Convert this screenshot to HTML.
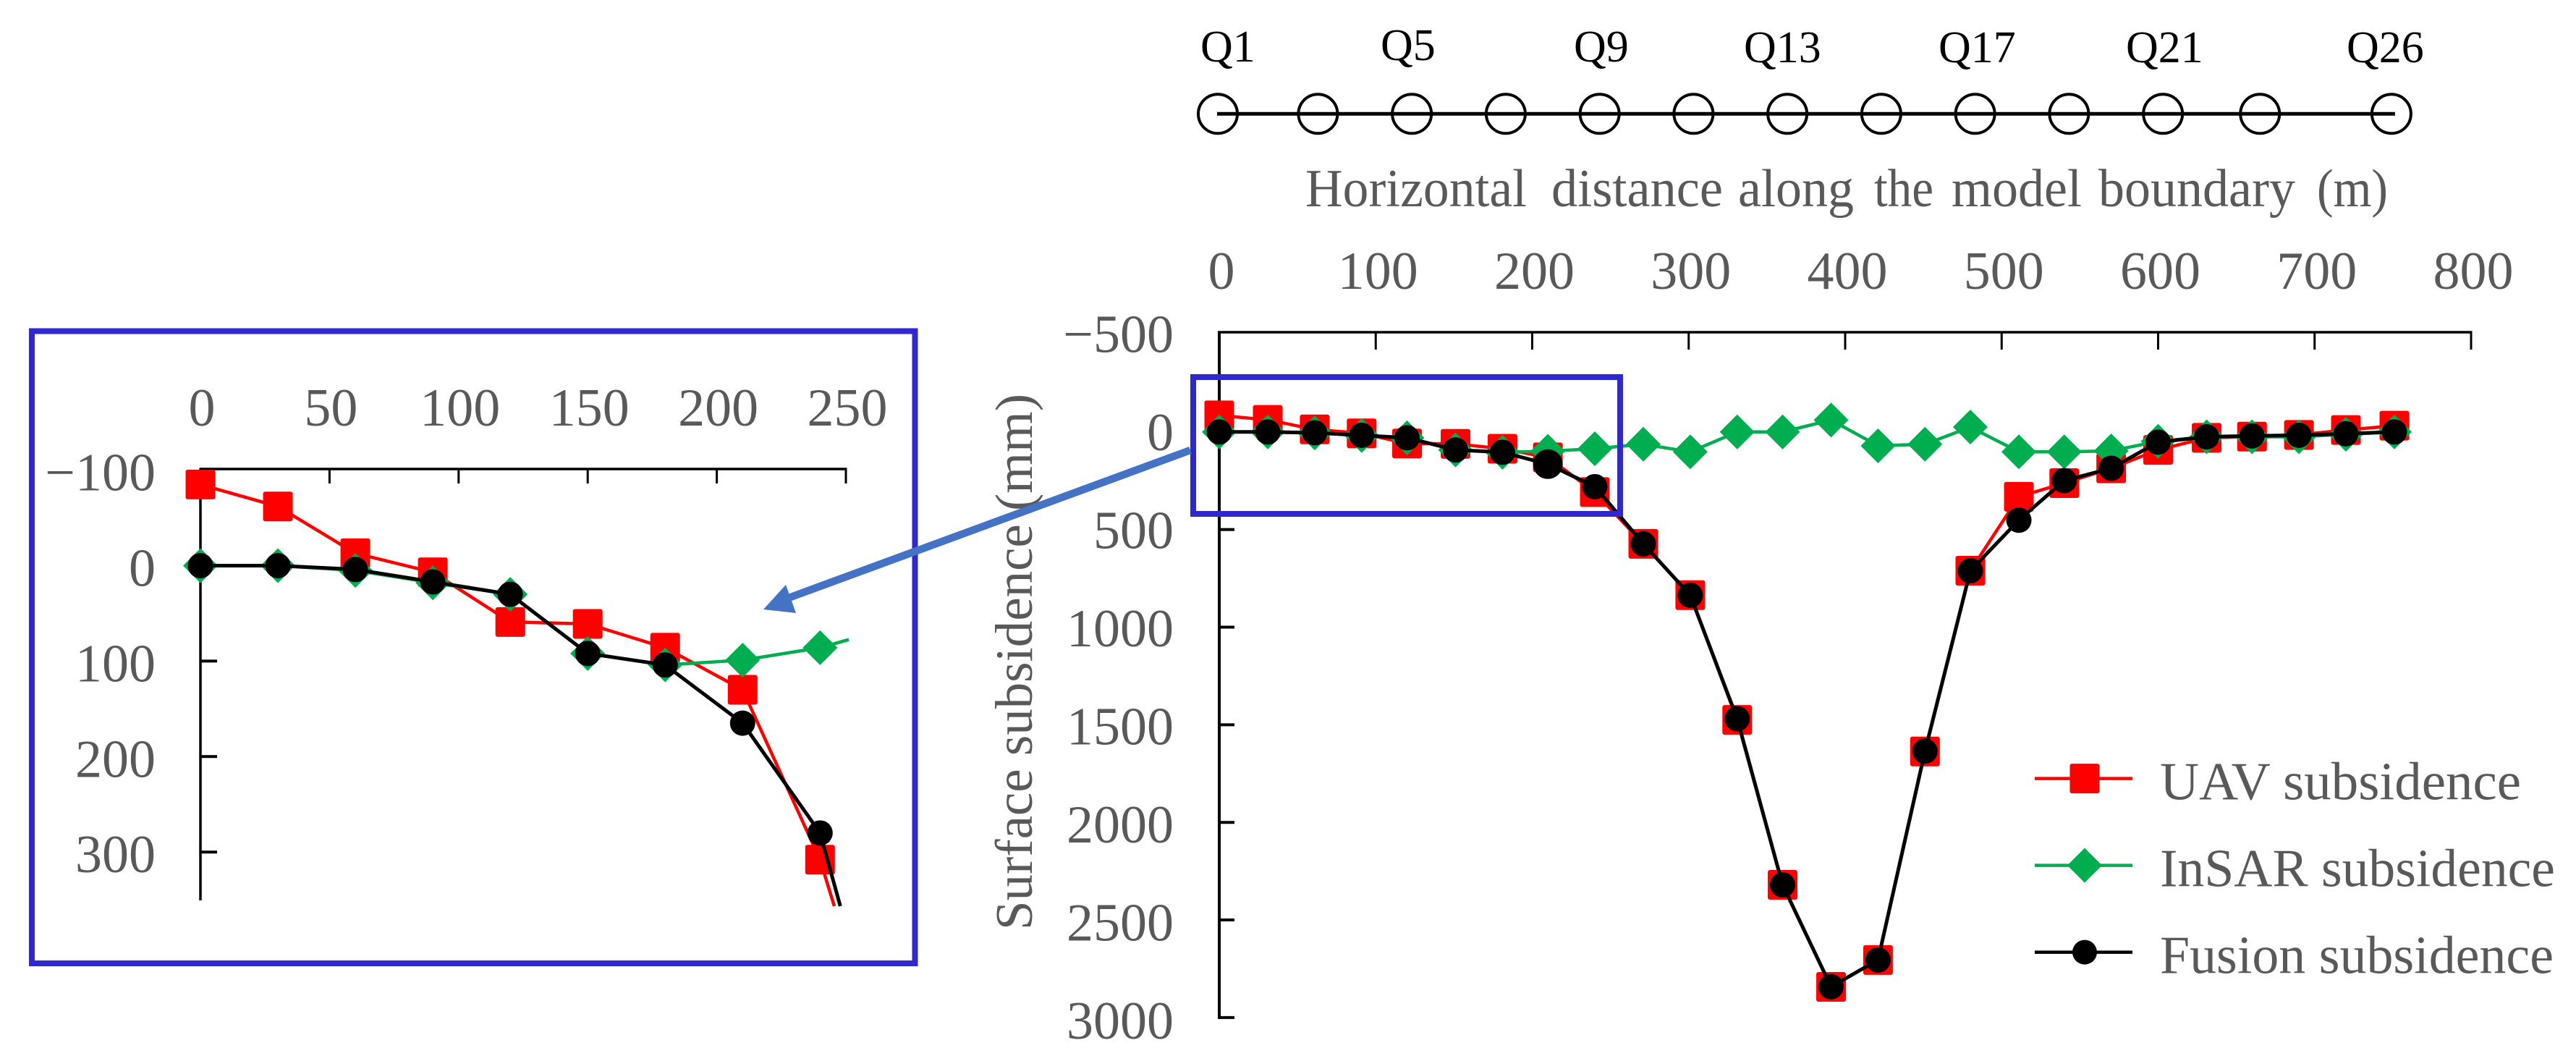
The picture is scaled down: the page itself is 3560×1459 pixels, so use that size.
<!DOCTYPE html>
<html lang="en">
<head>
<meta charset="utf-8">
<title>Surface subsidence along the model boundary</title>
<style>
html,body{margin:0;padding:0;background:#fff;overflow:hidden;}
svg{display:block;}
text{font-family:"Liberation Serif",serif;}
.lbl{fill:#595959;font-size:74px;}
.q{fill:#000;font-size:62px;}
</style>
</head>
<body>
<svg id="fig" xmlns="http://www.w3.org/2000/svg" width="3560" height="1459" viewBox="0 0 3560 1459">
  <rect x="0" y="0" width="3560" height="1459" fill="#fff"/>

  <g id="stationStrip">
    <text class="q" x="1659" y="85">Q1</text>
    <text class="q" x="1908" y="83">Q5</text>
    <text class="q" x="2175" y="85">Q9</text>
    <text class="q" x="2410" y="86">Q13</text>
    <text class="q" x="2679" y="86">Q17</text>
    <text class="q" x="2938" y="86">Q21</text>
    <text class="q" x="3243" y="86">Q26</text>
  </g>

  <text class="lbl" y="285" style="font-size:74px"><tspan x="1804" textLength="306" lengthAdjust="spacingAndGlyphs">Horizontal</tspan> <tspan x="2144" textLength="237" lengthAdjust="spacingAndGlyphs">distance</tspan> <tspan x="2402" textLength="160" lengthAdjust="spacingAndGlyphs">along</tspan> <tspan x="2590" textLength="82" lengthAdjust="spacingAndGlyphs">the</tspan> <tspan x="2697" textLength="180" lengthAdjust="spacingAndGlyphs">model</tspan> <tspan x="2900" textLength="272" lengthAdjust="spacingAndGlyphs">boundary</tspan> <tspan x="3202" textLength="98" lengthAdjust="spacingAndGlyphs">(m)</tspan></text>
  <text class="lbl" transform="translate(1426,1285) rotate(-90)" x="0" y="0" style="font-size:73px" textLength="741" lengthAdjust="spacingAndGlyphs">Surface subsidence (mm)</text>

  <g id="mainChart"></g>
  <g id="legend"></g>
  <g id="insetChart"></g>

  <rect x="1649" y="521" width="590" height="189" fill="none" stroke="#2f27cf" stroke-width="8"/>
  <rect x="44" y="457.5" width="1220.5" height="873.5" fill="none" stroke="#2f27cf" stroke-width="8"/>
  <line x1="1645" y1="622" x2="1090" y2="826" stroke="#4472c4" stroke-width="10.5"/>
  <polygon points="1055,842 1086,808 1100,847" fill="#4472c4"/>
</svg>

<script>
// Shared data
const distances = [0,31,61,91,120,151,181,210,240,271,301,331,360,391,421,451,480,511,540,570,600,631,660,690,720,751];
const insetDistances = [0,30,60,90,120,150,180,210,240,270,300,330,360,390,420,450,480,510,540,570,600,630,660,690,720,750];
const uavValues = [-85,-62,-13,7,59,61,86,130,308,573,836,1475,2320,2843,2705,1637,711,332,262,186,92,30,24,15,-10,-32];
const insarValues = [0,0,5,18,30,92,104,99,86,63,102,0,0,-61,71,63,-25,102,102,97,48,25,25,25,12,0];
const fusionValues = [0,0,4,17,30,92,104,165,280,573,836,1469,2320,2842,2705,1635,711,452,249,186,52,25,20,17,9,0];
const mainXTicks = [0,100,200,300,400,500,600,700,800];
const mainYTicks = [-500,0,500,1000,1500,2000,2500,3000];
const insetXTicks = [0,50,100,150,200,250];
const insetYTicks = [-100,0,100,200,300];
const stationDistances = [0,64,124,184,244,304,364,424,484,544,604,666,750];

const NS = 'http://www.w3.org/2000/svg';
function el(parent, tag, attrs, txt){
  const e = document.createElementNS(NS, tag);
  for (const k in attrs) e.setAttribute(k, attrs[k]);
  if (txt !== undefined) e.textContent = txt;
  parent.appendChild(e);
  return e;
}
const fmt = v => (v < 0 ? '\u2212' + (-v) : String(v));

// Axis functions
const xMain = d => 1685 + d * 2.1625;
const yMain = v => 596.8 + v * 0.2697;
const yMainLabel = v => 622 + v * 0.2710;
const xInset = d => 277 + d * 3.568;
const yInset = v => 781.5 + v * 1.319;
const xStation = d => 1683 + d * 2.1625;

// Inset plot limits: lines stop at these edges, markers outside are not drawn
const LIMIT_X = 1173;
const LIMIT_Y = 1252;

function linePoints(xs, ys, xf, yf, limited){
  const pts = [];
  for (let i = 0; i < ys.length; i++) {
    const x = xf(xs[i]), y = yf(ys[i]);
    if (limited && (x > LIMIT_X || y > LIMIT_Y)) {
      const x0 = xf(xs[i - 1]), y0 = yf(ys[i - 1]);
      const tx = x > LIMIT_X ? (LIMIT_X - x0) / (x - x0) : 1;
      const ty = y > LIMIT_Y ? (LIMIT_Y - y0) / (y - y0) : 1;
      const t = Math.min(tx, ty);
      pts.push((x0 + (x - x0) * t).toFixed(1) + ',' + (y0 + (y - y0) * t).toFixed(1));
      break;
    }
    pts.push(x.toFixed(1) + ',' + y.toFixed(1));
  }
  return pts.join(' ');
}
function polyline(parent, xs, ys, xf, yf, color, sw, name, limited){
  const p = el(parent, 'polyline', {points: linePoints(xs, ys, xf, yf, limited), fill: 'none', stroke: color, 'stroke-width': sw, 'stroke-linejoin': 'round'});
  
  
}
function square(parent, cx, cy, s, name){
  const m = el(parent, 'rect', {x: cx - s / 2, y: cy - s / 2, width: s, height: s, rx: 3, fill: '#ff0000'});
  
  
}
function diamond(parent, cx, cy, s, name){
  const h = s / 2;
  const m = el(parent, 'polygon', {points: [cx - h, cy, cx, cy - h, cx + h, cy, cx, cy + h].join(' '), fill: '#00ad4f'});
  
  
}
function dot(parent, cx, cy, r, name){
  const m = el(parent, 'circle', {cx: cx, cy: cy, r: r, fill: '#000'});
  
  
}
function series(parent, xs, xf, yf, prefix, bigIndex, limited){
  const visible = (x, y) => !limited || (x <= LIMIT_X && y <= LIMIT_Y);
  polyline(parent, xs, uavValues, xf, yf, '#ff0000', 4.5, prefix + '-uav-line', limited);
  uavValues.forEach((v, i) => { if (visible(xf(xs[i]), yf(v))) square(parent, xf(xs[i]), yf(v), 41, prefix + '-uav-point'); });
  polyline(parent, xs, insarValues, xf, yf, '#00ad4f', 4.5, prefix + '-insar-line', limited);
  insarValues.forEach((v, i) => { if (visible(xf(xs[i]), yf(v))) diamond(parent, xf(xs[i]), yf(v), 48, prefix + '-insar-point'); });
  polyline(parent, xs, fusionValues, xf, yf, '#000', 5, prefix + '-fusion-line', limited);
  fusionValues.forEach((v, i) => { if (visible(xf(xs[i]), yf(v))) dot(parent, xf(xs[i]), yf(v), i === bigIndex ? 20.5 : 17.5, prefix + '-fusion-point'); });
}

// Station strip
const strip = document.getElementById('stationStrip');
const stationLine = el(strip, 'line', {x1: xStation(stationDistances[0]) - 1, y1: 157.3, x2: xStation(stationDistances[stationDistances.length - 1]) + 5, y2: 157.3, stroke: '#000', 'stroke-width': 5});


stationDistances.forEach(d => {
  const ring = el(strip, 'circle', {cx: xStation(d), cy: 157.3, r: 27, fill: 'none', stroke: '#000', 'stroke-width': 4});
  
  
});

// Main chart
const mainG = document.getElementById('mainChart');
const MAIN_TOP = 459;
const mainXAxis = el(mainG, 'line', {x1: xMain(0) - 2, y1: MAIN_TOP, x2: xMain(800) + 1.5, y2: MAIN_TOP, stroke: '#000', 'stroke-width': 3.5});


const mainYAxis = el(mainG, 'line', {x1: xMain(0), y1: MAIN_TOP - 1.5, x2: xMain(0), y2: yMain(3000) + 2, stroke: '#000', 'stroke-width': 4});


mainXTicks.forEach(t => {
  if (t !== 0) {
    const tk = el(mainG, 'line', {x1: xMain(t), y1: MAIN_TOP, x2: xMain(t), y2: MAIN_TOP + 24, stroke: '#000', 'stroke-width': 3});
    
    
  }
  const lb = el(mainG, 'text', {class: 'lbl', x: xMain(t) + 3, y: 399, 'text-anchor': 'middle'}, fmt(t));
  
  
});
mainYTicks.forEach(t => {
  if (t !== mainYTicks[0]) {
    const tk = el(mainG, 'line', {x1: xMain(0), y1: yMain(t), x2: xMain(0) + 21, y2: yMain(t), stroke: '#000', 'stroke-width': 4});
    
    
  }
  const lb = el(mainG, 'text', {class: 'lbl', x: 1622, y: yMainLabel(t), 'text-anchor': 'end'}, fmt(t));
  
  
});
series(mainG, distances, xMain, yMain, 'main', 7, false);

// Inset chart
const insetG = document.getElementById('insetChart');
const INSET_TOP = 648;
const insetXAxis = el(insetG, 'line', {x1: xInset(0) - 1.5, y1: INSET_TOP, x2: xInset(250) + 1.5, y2: INSET_TOP, stroke: '#000', 'stroke-width': 3.5});


const insetYAxis = el(insetG, 'line', {x1: xInset(0), y1: INSET_TOP, x2: xInset(0), y2: 1244, stroke: '#000', 'stroke-width': 3.5});


insetXTicks.forEach(t => {
  if (t !== 0) {
    const tk = el(insetG, 'line', {x1: xInset(t), y1: INSET_TOP, x2: xInset(t), y2: INSET_TOP + 20, stroke: '#000', 'stroke-width': 3});
    
    
  }
  const lb = el(insetG, 'text', {class: 'lbl', x: xInset(t) + 2, y: 588, 'text-anchor': 'middle'}, fmt(t));
  
  
});
insetYTicks.forEach(t => {
  if (t !== insetYTicks[0]) {
    const tk = el(insetG, 'line', {x1: xInset(0), y1: yInset(t), x2: xInset(0) + 23, y2: yInset(t), stroke: '#000', 'stroke-width': 4});
    
    
  }
  const lb = el(insetG, 'text', {class: 'lbl', x: 215, y: yInset(t) + 28, 'text-anchor': 'end'}, fmt(t));
  
  
});
series(insetG, insetDistances, xInset, yInset, 'inset', -1, true);

// Legend
const legendG = document.getElementById('legend');
const legendLabels = ['UAV subsidence', 'InSAR subsidence', 'Fusion subsidence'];
const legendColors = ['#ff0000', '#00ad4f', '#000'];
const legendTextWidths = [499, 546, 544];
legendLabels.forEach((name, i) => {
  const y = 1075.6 + i * 120;
  const sw = el(legendG, 'line', {x1: 2812, y1: y, x2: 2947, y2: y, stroke: legendColors[i], 'stroke-width': 4.5});
  
  
  if (i === 0) square(legendG, 2881, y, 41, 'legend-uav-marker');
  if (i === 1) diamond(legendG, 2881, y, 48, 'legend-insar-marker');
  if (i === 2) dot(legendG, 2881, y, 17, 'legend-fusion-marker');
  const t = el(legendG, 'text', {class: 'lbl', x: 2985, y: y + 29, textLength: legendTextWidths[i], lengthAdjust: 'spacingAndGlyphs'}, name);
  
  
});
</script>
</body>
</html>
